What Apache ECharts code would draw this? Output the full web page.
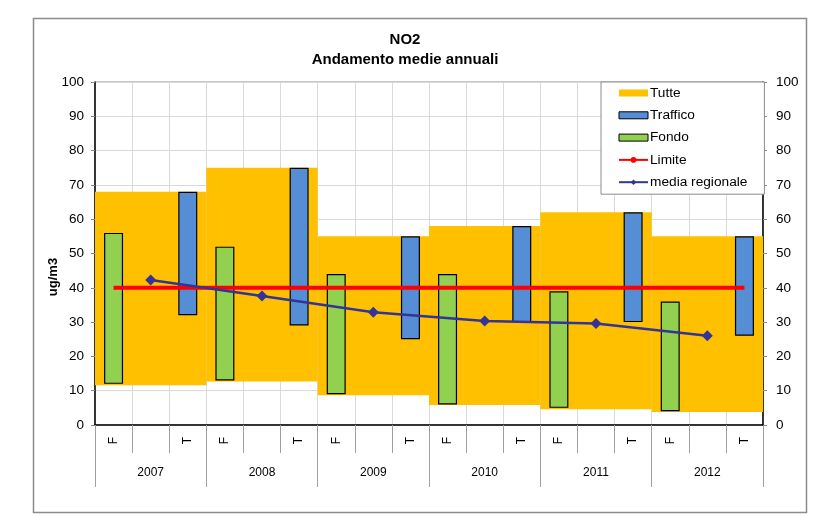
<!DOCTYPE html>
<html>
<head>
<meta charset="utf-8">
<script src="https://cdn.jsdelivr.net/npm/echarts@6/dist/echarts.min.js"></script>
<style>
html,body{margin:0;padding:0;background:#fff;}
#c{width:824px;height:529px;}
</style>
</head>
<body>
<div id="c"></div>
<script>
var years = ['2007', '2008', '2009', '2010', '2011', '2012'];
var slotLabels = ['F', '', 'T'];
var yTicks = [0, 10, 20, 30, 40, 50, 60, 70, 80, 90, 100];

var tutteMin = [11.6, 12.7, 8.7, 5.8, 4.6, 3.8];
var tutteMax = [68, 75, 55, 58, 62, 55];
var fondoMin = [12, 13, 9, 6, 5, 4];
var fondoMax = [56, 52, 44, 44, 39, 36];
var trafficoMin = [32, 29, 25, 30, 30, 26];
var trafficoMax = [68, 75, 55, 58, 62, 55];
var mediaRegionale = [42.3, 37.6, 32.9, 30.3, 29.6, 26.0];
var limite = 40;

var FONT = 'Liberation Sans, Arial, sans-serif';

var slots = [];
years.forEach(function () { slotLabels.forEach(function (s) { slots.push(s); }); });

function slotArr(vals, offset) {
  var a = [];
  for (var i = 0; i < slots.length; i++) a.push('-');
  vals.forEach(function (v, i) { a[i * 3 + offset] = v; });
  return a;
}
function diff(hi, lo) { return hi.map(function (v, i) { return +(v - lo[i]).toFixed(2); }); }

var mediaData = [];
for (var i = 0; i < slots.length; i++) mediaData.push(null);
mediaRegionale.forEach(function (v, i) { mediaData[i * 3 + 1] = v; });
var limiteData = slots.map(function () { return limite; });

var chart = echarts.init(document.getElementById('c'), null, { renderer: 'canvas' });
var option = {
  animation: false,
  textStyle: { fontFamily: FONT },
  graphic: [
    { type: 'rect', shape: { x: 33.5, y: 18.5, width: 773, height: 494 }, style: { fill: 'none', stroke: '#8c8c8c', lineWidth: 1.5 }, z: -10 },
    { type: 'text', x: 405, y: 40, style: { text: 'NO2', font: 'bold 15px ' + FONT, fill: '#000', align: 'center', verticalAlign: 'middle' } },
    { type: 'text', x: 405, y: 60, style: { text: 'Andamento medie annuali', font: 'bold 15px ' + FONT, fill: '#000', align: 'center', verticalAlign: 'middle' } },
    { type: 'text', x: 53, y: 277, rotation: Math.PI / 2, style: { text: 'ug/m3', font: 'bold 13px ' + FONT, fill: '#000', align: 'center', verticalAlign: 'middle' } }
  ],
  grid: { left: 95, right: 61, top: 82, bottom: 104, show: true, borderColor: '#8c8c8c', borderWidth: 1, backgroundColor: 'transparent' },
  legend: {
    data: [
      { name: 'Tutte', icon: 'rect', itemStyle: { borderWidth: 0 } },
      { name: 'Traffico', icon: 'rect', itemStyle: { borderWidth: 1, borderColor: '#000' } },
      { name: 'Fondo', icon: 'rect', itemStyle: { borderWidth: 1, borderColor: '#000' } },
      { name: 'Limite' },
      { name: 'media regionale' }
    ],
    orient: 'vertical',
    left: 601, top: 82,
    padding: [4, 17, 5, 17],
    itemWidth: 29, itemHeight: 7, itemGap: 8.3,
    backgroundColor: '#fff',
    borderColor: '#8c8c8c', borderWidth: 1,
    textStyle: { fontSize: 13.7, color: '#000', fontFamily: FONT, padding: [0, 0, 0, -3] },
    selectedMode: false
  },
  xAxis: [
    {
      type: 'category', data: slots, boundaryGap: true,
      axisLine: { show: true, lineStyle: { color: '#000', width: 1.5 } },
      axisTick: { show: true, interval: 0, length: 28, lineStyle: { color: '#a0a0a0' } },
      axisLabel: { interval: 0, rotate: 90, fontSize: 12, margin: 12, color: '#000', fontFamily: FONT },
      splitLine: { show: true, interval: 0, lineStyle: { color: '#d9d9d9' } }
    },
    {
      type: 'category', data: years, position: 'bottom', boundaryGap: true,
      axisLine: { show: false },
      axisTick: { show: true, interval: 0, length: 62, lineStyle: { color: '#a0a0a0' } },
      axisLabel: { interval: 0, fontSize: 12, margin: 42, color: '#000', fontFamily: FONT },
      splitLine: { show: false }
    }
  ],
  yAxis: [
    {
      type: 'value', min: yTicks[0], max: yTicks[yTicks.length - 1], interval: 10, position: 'left',
      axisLine: { show: true, lineStyle: { color: '#000', width: 1.5 } },
      axisTick: { show: true, length: 4, lineStyle: { color: '#888' } },
      axisLabel: { fontSize: 13.5, margin: 11, color: '#000', fontFamily: FONT },
      splitLine: { show: true, lineStyle: { color: '#d9d9d9' } }
    },
    {
      type: 'value', min: yTicks[0], max: yTicks[yTicks.length - 1], interval: 10, position: 'right',
      axisLine: { show: true, lineStyle: { color: '#000', width: 1.5 } },
      axisTick: { show: true, length: 4, lineStyle: { color: '#888' } },
      axisLabel: { fontSize: 13.5, margin: 13, color: '#000', fontFamily: FONT },
      splitLine: { show: false }
    }
  ],
  series: [
    { name: 'tutteBase', type: 'bar', xAxisIndex: 1, stack: 'a', barWidth: '100%', data: tutteMin, itemStyle: { color: 'transparent' }, silent: true },
    { name: 'Tutte', type: 'bar', xAxisIndex: 1, stack: 'a', barWidth: '100%', data: diff(tutteMax, tutteMin), itemStyle: { color: '#FFC000' } },
    { name: 'fondoBase', type: 'bar', xAxisIndex: 0, stack: 'f', barWidth: 19, barGap: '-100%', data: slotArr(fondoMin, 0), itemStyle: { color: 'transparent' }, silent: true },
    { name: 'Fondo', type: 'bar', xAxisIndex: 0, stack: 'f', barWidth: 19, barGap: '-100%', data: slotArr(diff(fondoMax, fondoMin), 0), itemStyle: { color: '#92D050', borderColor: '#000', borderWidth: 1.2 } },
    { name: 'trafficoBase', type: 'bar', xAxisIndex: 0, stack: 't', barWidth: 19, barGap: '-100%', data: slotArr(trafficoMin, 2), itemStyle: { color: 'transparent' }, silent: true },
    { name: 'Traffico', type: 'bar', xAxisIndex: 0, stack: 't', barWidth: 19, barGap: '-100%', data: slotArr(diff(trafficoMax, trafficoMin), 2), itemStyle: { color: '#558ED5', borderColor: '#000', borderWidth: 1.2 } },
    { name: 'Limite', type: 'line', xAxisIndex: 0, data: limiteData, symbol: 'none', lineStyle: { color: '#FF0000', width: 4 }, itemStyle: { color: '#FF0000' }, z: 5 },
    { name: 'media regionale', type: 'line', xAxisIndex: 0, data: mediaData, connectNulls: true, symbol: 'diamond', symbolSize: 11, lineStyle: { color: '#333399', width: 2.5 }, itemStyle: { color: '#333399' }, z: 6 }
  ]
};
chart.setOption(option);
</script>
</body>
</html>
